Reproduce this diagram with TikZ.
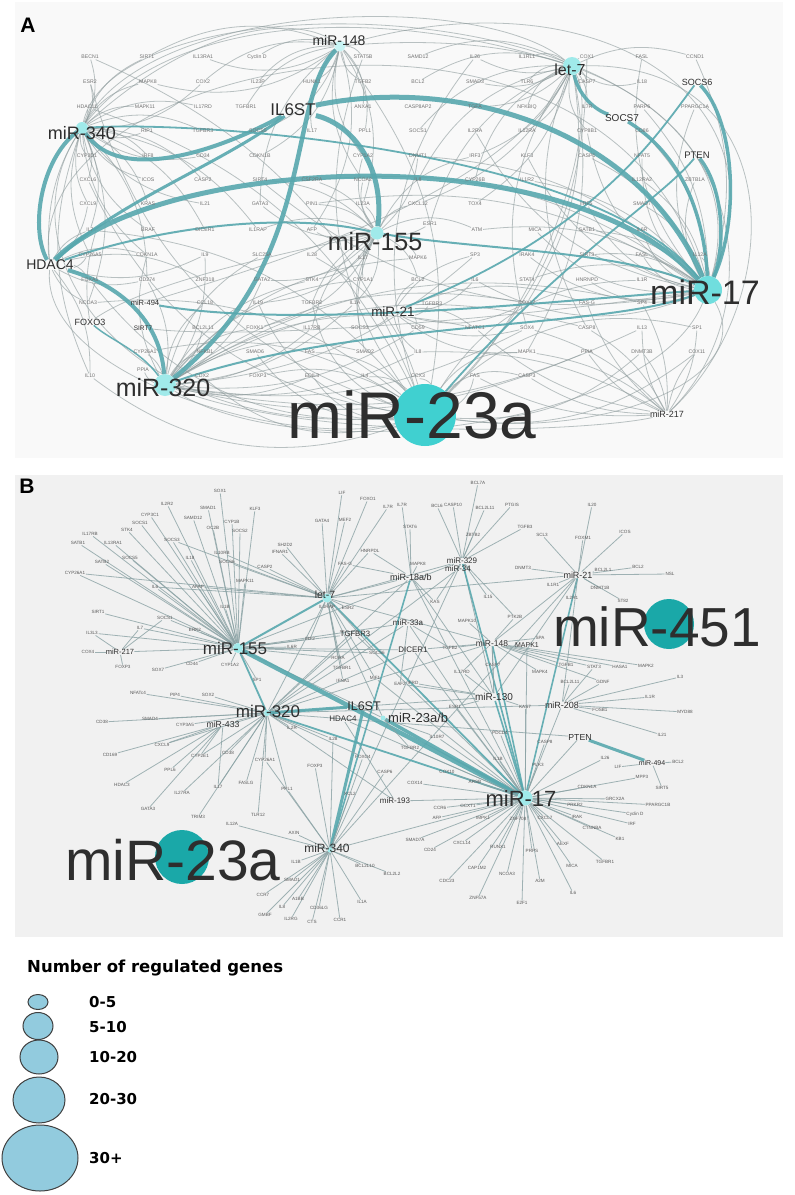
\documentclass[tikz,border=0pt]{standalone}
\usepackage{fontspec}
\setmainfont{Liberation Sans}
\newfontfamily\legfont{DejaVu Sans}
\usetikzlibrary{positioning,shapes.geometric}
\definecolor{tealE}{RGB}{88,168,174}
\definecolor{grayE}{RGB}{145,158,159}
\definecolor{edgeB}{RGB}{138,162,164}
\definecolor{cyanA}{RGB}{64,208,208}
\definecolor{cyanM}{RGB}{112,222,222}
\definecolor{cyanL}{RGB}{160,234,234}
\definecolor{cyanP}{RGB}{200,244,244}
\definecolor{tealB}{RGB}{26,168,168}
\definecolor{legblue}{RGB}{146,203,222}
\definecolor{bgA}{RGB}{249,249,249}
\definecolor{bgB}{RGB}{241,241,241}
\pgfdeclarelayer{back}
\pgfdeclarelayer{edges}
\pgfsetlayers{back,edges,main}

\tikzset{
  gene/.style={font=\fontsize{5.2}{5.2}\selectfont, text=black!55, inner sep=0.6pt},
  bgene/.style={font=\fontsize{4.6}{4.6}\selectfont, text=black!65, inner sep=0.6pt},
  hublab/.style={font=\fontsize{#1}{#1}\selectfont, text=black!82, inner sep=0pt},
  hubdot/.style={circle, fill=cyanL, draw=none, inner sep=0pt, minimum size=#1},
  gedge/.style={draw=grayE, line width=0.8pt, opacity=0.62},
  bedge/.style={draw=edgeB, line width=0.8pt, opacity=0.8},
  tedge/.style={draw=tealE, line width=#1, opacity=0.9},
  legdot/.style={ellipse, draw=black!75, fill=legblue, line width=1pt, inner sep=0pt},
  legtxt/.style={font={\legfont\bfseries\fontsize{15}{15}\selectfont}, inner sep=0pt},
  panel/.style={font=\fontsize{21}{21}\selectfont\bfseries, inner sep=0pt}
}

\begin{document}
\begin{tikzpicture}[x=1pt, y=-1pt]
\useasboundingbox (0,0) rectangle (795,1195);
\begin{pgfonlayer}{back}
\fill[white] (0,0) rectangle (795,1195);
\fill[bgA] (15,2) rectangle (783,458);
\fill[bgB] (15,475) rectangle (783,937);
\end{pgfonlayer}

%%%%%%%%%%%%%%%% Panel A %%%%%%%%%%%%%%%%
\node[panel] (pA) at (28,25) {A};

% hubs
\node[hubdot=11pt, fill=cyanP] (m148) at (340,46) {};
\node[hublab=14] (m148t) at (339,40) {miR-148};
\node[hubdot=18pt] (let7) at (572,66) {};
\node[hublab=16] (let7t) at (570,70) {let-7};
\node[hubdot=12pt] (m340) at (82,128) {};
\node[hublab=18] (m340t) at (82,133) {miR-340};
\node[hubdot=13pt] (m155) at (377,233) {};
\node[hublab=25] (m155t) at (375,242) {miR-155};
\node[hubdot=28pt, fill=cyanM] (m17) at (708,290) {};
\node[hublab=34] (m17t) at (705,292) {miR-17};
\node[hubdot=22pt] (m320) at (165,385) {};
\node[hublab=25] (m320t) at (163,388) {miR-320};
\node[hubdot=62pt, fill=cyanA] (m23a) at (425,415) {};
\node[hublab=66] (m23at) at (412,415) {miR-23a};
\node[hublab=17] (il6st) at (293,110) {IL6ST};
\node[hublab=9] (socs6) at (697,82) {SOCS6};
\node[hublab=9.5] (pten) at (697,155) {PTEN};
\node[hublab=10] (socs7) at (622,118) {SOCS7};
\node[hublab=14] (hdac4) at (50,265) {HDAC4};
\node[hublab=9] (foxo3) at (90,322) {FOXO3};
\node[hublab=7.5] (m494) at (145,303) {miR-494};
\node[hublab=6.5] (sirt7) at (143,328) {SIRT7};
\node[hublab=13.5] (m21) at (393,312) {miR-21};
\node[hublab=9] (m217) at (667,414) {miR-217};

% gene grid
\foreach \n/\x/\y/\t in {
  BECN1/90/57/BECN1, SIRTa/147/57/SIRT1, IL13RA1/203/57/IL13RA1, CyclinD/257/57/Cyclin D,
  STAT5B/363/57/STAT5B, SAMD12/418/57/SAMD12, IL26/475/57/IL26, IL1RL1/527/57/IL1RL1,
  COX1/587/57/COX1, FASL/642/57/FASL, CCND1/695/57/CCND1,
  ESR2/90/82/ESR2, MAPK8/148/82/MAPK8, COX2/203/82/COX2, IL23P/258/82/IL23P,
  HUNK1/312/82/HUNK1, TGFB2/363/82/TGFB2, BCL2/418/82/BCL2, SMAD3/475/82/SMAD3,
  TLR6/527/82/TLR6, CASP7/587/82/CASP7, IL18/642/82/IL18,
  HDAC11/87/107/HDAC11, MAPK11/145/107/MAPK11, IL17RD/203/107/IL17RD, TGFBR1/246/107/TGFBR1,
  ANXA1/363/107/ANXA1, CASP8AP/418/107/CASP8AP2, TGFA/475/107/TGFA, NFKBIQ/527/107/NFKBIQ,
  IL7R/587/107/IL7R, PARP6/642/107/PARP6, PPARGC1A/695/107/PPARGC1A,
  RIP1/147/131/RIP1, TGFBR3/203/131/TGFBR3, SOCS5/258/131/SOCS5, IL17/312/131/IL17,
  PPL1/365/131/PPL1, SOCS1/418/131/SOCS1, IL2RA/475/131/IL2RA, IL12RA/527/131/IL12RA,
  CYP8B1/587/131/CYP8B1, CD86/642/131/CD86,
  CYP3D1/87/156/CYP3D1, IRF8/148/156/IRF8, CD34/203/156/CD34, CDKN1B/260/156/CDKN1B,
  CYP1A2/363/156/CYP1A2, DNMT1/418/156/DNMT1, IRF3/475/156/IRF3, KLF3/527/156/KLF3,
  CASP1/587/156/CASP1, NFAT5/642/156/NFAT5,
  CXCL6/88/180/CXCL6, ICOS/148/180/ICOS, CASP2/203/180/CASP2, SIRT4/260/180/SIRT4,
  CSF2RA/312/180/CSF2RA, NCOA2/363/180/NCOA2, ILb8/418/180/IL8, CYP26B/475/180/CYP26B,
  IL1R2/527/180/IL1R2, IL12RA2/642/180/IL12RA2, ZBTB1A/695/180/ZBTB1A,
  CXCL9/88/204/CXCL9, KRAS/148/204/KRAS, IL21/205/204/IL21, GATA3/260/204/GATA3,
  PIN1/312/204/PIN1, IL23A/363/204/IL23A, CXCL12/418/204/CXCL12, TOX4/475/204/TOX4,
  IRF5/587/204/IRF5, SMAD7/642/204/SMAD7,
  IL7/90/230/IL7, BRAF/148/230/BRAF, DICER1/205/230/DICER1, IL1RAP/258/230/IL1RAP,
  AFP/312/230/AFP, ESR1/430/224/ESR1, ATM/477/230/ATM, MICA/535/230/MICA,
  SATB1/587/230/SATB1, IL6R/642/230/IL6R,
  CYP26A/90/255/CYP26A5, CDKN1A/147/255/CDKN1A, IL9/205/255/IL9, SLC25A/262/255/SLC25A,
  IL28/312/255/IL28, IL17b/363/258/IL17, MAPK6/418/258/MAPK6, SP3/475/255/SP3,
  IRAK4/527/255/IRAK4, SIRT3/587/255/SIRT3, FASLb/642/255/FASL, IL12A/700/255/IL12A,
  FOXA1/90/280/FOXA1, CD274/147/280/CD274, ZNF318/205/280/ZNF318, GATA2/262/280/GATA2,
  STK4/312/280/STK4, CYP1A1/363/280/CYP1A1, BCL2b/418/280/BCL2, IL6/475/280/IL6,
  STAT4/527/280/STAT4, HNRNPD/587/280/HNRNPD, IL1R/642/280/IL1R,
  NCOA3/88/303/NCOA3, CCL18/205/303/CCL18, IL19/258/303/IL19, TGFBR2/312/303/TGFBR2,
  IL1A/355/303/IL1A, TGFBR3b/432/304/TGFBR3, COX17/527/303/COX17, FASG/587/303/FAS-G,
  SP4/642/303/SP4,
  BCL2L11/203/328/BCL2L11, FOXK1/255/328/FOXK1, IL17RB/312/328/IL17RB, SOCS3/360/328/SOCS3,
  CD59/418/328/CD59, NFATC1/475/328/NFATC1, SOX4/527/328/SOX4, CASP8/587/328/CASP8,
  IL13/642/328/IL13, SP1/697/328/SP1,
  CYP26A1/145/352/CYP26A1, NFKB1/205/352/NFKB1, SMAD6/255/352/SMAD6, FAS/310/352/FAS,
  SMAD2/365/352/SMAD2, IL8c/418/352/IL8, MAPK1/527/352/MAPK1, PPIA/587/352/PPIA,
  DNMT3B/642/352/DNMT3B, COX11/697/352/COX11,
  IL10/90/376/IL10, PPIAb/143/370/PPIA, CDX2/202/376/CDX2, FOXP3/258/376/FOXP3,
  EDIL3/312/376/EDIL3, IL4/365/376/IL4, CCX3/418/376/CCX3, FASb/475/376/FAS,
  CASP3/527/376/CASP3}
  \node[gene] (a\n) at (\x,\y) {\t};

\begin{pgfonlayer}{edges}
% thin grey arcs, hub by hub
\foreach \g [count=\i] in {BECN1, ESR2, HDAC11, CXCL6, IL7, FOXA1, NCOA3, IL10, CYP26A1, CDX2,
  FOXP3, EDIL3, IL4, SMAD6, FAS, TGFBR2, IL28, STAT5B, TGFB2, IL26, COX1, SP1, COX11, CASP3,
  FASb, MAPK1, DNMT3B, IL1R, CCX3, IL19}
  {\pgfmathtruncatemacro\bb{mod(\i,2)==0 ? 28 : -22}
   \draw[gedge] (m23a) to[bend left=\bb] (a\g);}
\foreach \g [count=\i] in {IL8c, SMAD2, CD59, NFATC1, SOX4, CASP8, IL13, COX17, IL1A, MAPK6,
  SP3, CYP1A1, GATA2, SLC25A, IL9, CDKN1A, CD274, PPIAb, CYP26A1, NFKB1, BCL2L11, CCL18,
  EDIL3, FOXK1, IL17RB, STK4, PPIA, SP4}
  {\pgfmathtruncatemacro\bb{mod(\i,2)==0 ? 22 : -18}
   \draw[gedge] (m320) to[bend left=\bb] (a\g);}
\foreach \g [count=\i] in {CD86, CYP8B1, CASP1, NFAT5, IL1R2, IRF5, SMAD7, MICA, ATM, IRAK4,
  SIRT3, FASLb, IL12A, HNRNPD, STAT4, IL6, CSF2RA, SIRT4, PIN1, KLF3, DNMT1, IL2RA, PARP6,
  PPARGC1A, CCND1, FASL, SATB1, IL6R, IL12RA2, ZBTB1A}
  {\pgfmathtruncatemacro\bb{mod(\i,2)==0 ? 25 : -20}
   \draw[gedge] (m17) to[bend left=\bb] (a\g);}
\foreach \g [count=\i] in {SAMD12, IL26, IL1RL1, COX1, BCL2, SMAD3, TLR6, CASP7, IL18, TGFA,
  NFKBIQ, IL7R, SOCS1, IL12RA, CYP8B1, IRF3, CYP26B, TOX4, ILb8, CXCL12, ESR1, COX17, SOX4,
  MAPK1, CASP8, CCND1}
  {\pgfmathtruncatemacro\bb{mod(\i,2)==0 ? 20 : -25}
   \draw[gedge] (let7) to[bend left=\bb] (a\g);}
\foreach \g [count=\i] in {SIRTa, IL13RA1, CyclinD, STAT5B, TGFB2, HUNK1, IL23P, ANXA1, TGFBR1,
  PPL1, IL17, SOCS5, CYP1A2, CDKN1B, NCOA2, IL23A, GATA3, AFP, COX2, MAPK8}
  {\pgfmathtruncatemacro\bb{mod(\i,2)==0 ? 25 : -25}
   \draw[gedge] (m148) to[bend left=\bb] (a\g);}
\foreach \g [count=\i] in {BECN1, SIRTa, ESR2, MAPK8, HDAC11, MAPK11, RIP1, TGFBR3, CYP3D1,
  IRF8, CD34, CXCL6, ICOS, CASP2, CXCL9, KRAS, IL21, IL7, BRAF, DICER1, CDKN1A, CD274,
  CYP26A, NCOA3, IL10, IL17RD, COX2, IL1RAP}
  {\pgfmathtruncatemacro\bb{mod(\i,2)==0 ? 22 : -22}
   \draw[gedge] (m340) to[bend left=\bb] (a\g);}
\foreach \g [count=\i] in {IL28, STK4, IL1RAP, AFP, ESR1, ATM, IL17b, MAPK6, CYP1A1, BCL2b,
  SMAD2, IL1A, TGFBR2, IL19, SOCS3, FOXK1, IL17RB, GATA2, DNMT1, CYP1A2, CSF2RA, NCOA2,
  IL23A, CXCL12, PIN1, IRF3, SIRT4, GATA3}
  {\pgfmathtruncatemacro\bb{mod(\i,2)==0 ? 25 : -20}
   \draw[gedge] (m155) to[bend left=\bb] (a\g);}
\foreach \g [count=\i] in {TGFBR3b, CD59, MAPK1, SOCS3, IL8c, NFATC1, COX17, FASG, SOX4,
  BCL2b, IL6, SP3}
  {\pgfmathtruncatemacro\bb{mod(\i,2)==0 ? 20 : -20}
   \draw[gedge] (m21) to[bend left=\bb] (a\g);}
\foreach \g [count=\i] in {SP1, COX11, DNMT3B, IL13, CASP8, PPIA, MAPK1, CASP3, SOX4, FASG,
  SP4, NFATC1, IL8c, FASb}
  {\pgfmathtruncatemacro\bb{mod(\i,2)==0 ? 15 : -15}
   \draw[gedge] (m217) to[bend left=\bb] (a\g);}
\foreach \g [count=\i] in {CYP26A, FOXA1, NCOA3, IL10, CD274, CDKN1A, IL9, ZNF318, CXCL9, IL7}
  {\pgfmathtruncatemacro\bb{mod(\i,2)==0 ? 20 : -20}
   \draw[gedge] (hdac4) to[bend left=\bb] (a\g);}

% long grey arcs round the outside
\draw[gedge] (m340) .. controls (120,-40) and (790,-10) .. (m17);
\draw[gedge] (m340) .. controls (150,0) and (480,-10) .. (let7);
\draw[gedge] (hdac4) .. controls (20,60) and (600,-60) .. (m17);
\draw[gedge] (m148) .. controls (600,-30) and (790,100) .. (m17);
\draw[gedge] (hdac4) .. controls (30,40) and (300,-20) .. (let7);
\draw[gedge] (m340) .. controls (200,20) and (300,15) .. (m148);
\draw[gedge] (m320) .. controls (300,470) and (650,430) .. (m17);
\draw[gedge] (m320) .. controls (320,445) and (600,430) .. (m217);
\draw[gedge] (hdac4) .. controls (40,380) and (300,450) .. (m23a);
\draw[gedge] (m340) .. controls (0,250) and (120,440) .. (m23a);
\draw[gedge] (let7) .. controls (790,60) and (790,300) .. (m217);
\draw[gedge] (m148) .. controls (760,10) and (785,300) .. (m217);
\draw[gedge] (m23a) .. controls (600,440) and (760,380) .. (m17);
\draw[gedge] (m23a) .. controls (550,300) and (600,120) .. (let7);
\draw[gedge] (foxo3) .. controls (80,260) and (100,230) .. (aIL7);
\draw[gedge] (foxo3) .. controls (150,280) and (300,250) .. (m155);
\draw[gedge] (sirt7) .. controls (250,340) and (500,320) .. (m17);
\draw[gedge] (m494) .. controls (250,270) and (500,200) .. (let7);

% teal arcs
\draw[tedge=2pt] (m155) .. controls (480,250) and (620,250) .. (m17);
\draw[tedge=2pt] (m494) .. controls (300,330) and (560,300) .. (m17);
\draw[tedge=1.8pt] (m340) .. controls (200,120) and (600,150) .. (m17);
\draw[tedge=2pt] (hdac4) .. controls (150,230) and (280,210) .. (m155);
\draw[tedge=2pt] (m320) .. controls (350,320) and (600,330) .. (m17);
\draw[tedge=1.8pt] (socs6) .. controls (660,130) and (600,230) .. (m21);
\draw[tedge=1.8pt] (pten) .. controls (660,200) and (560,260) .. (m23a);
\draw[tedge=1.5pt] (foxo3) .. controls (110,340) and (140,350) .. (m320);
\draw[tedge=3pt] (hdac4) .. controls (120,200) and (220,165) .. (il6st);
\draw[tedge=4pt] (m340) .. controls (120,185) and (220,150) .. (il6st);
\draw[tedge=4.5pt] (m148) .. controls (285,100) and (320,260) .. (m320);
\draw[tedge=5pt] (il6st) .. controls (355,125) and (385,170) .. (m155);
\draw[tedge=5pt] (il6st) .. controls (460,75) and (640,130) .. (m17);
\draw[tedge=5pt] (hdac4) .. controls (150,160) and (560,130) .. (m17);
\draw[tedge=4pt] (m340) .. controls (40,160) and (30,230) .. (hdac4);
\draw[tedge=4pt] (hdac4) .. controls (120,285) and (160,320) .. (m320);
\draw[tedge=3.5pt] (let7) .. controls (580,100) and (600,112) .. (socs7);
\draw[tedge=3.5pt] (socs7) .. controls (690,160) and (705,230) .. (m17);
\draw[tedge=3.5pt] (socs6) .. controls (735,120) and (740,220) .. (m17);
\draw[tedge=3.5pt] (pten) .. controls (725,190) and (725,250) .. (m17);
\end{pgfonlayer}

%%%%%%%%%%%%%%%% Panel B %%%%%%%%%%%%%%%%
\node[panel] (pB) at (27,486) {B};

% hubs
\node[hubdot=10pt] (b155) at (238,648) {};
\node[hublab=17] (b155t) at (235,648) {miR-155};
\node[hubdot=9pt] (blet7) at (327,598) {};
\node[hublab=10.5] (blet7t) at (325,595) {let-7};
\node[hubdot=6pt] (b320) at (267,713) {};
\node[hublab=17] (b320t) at (268,711) {miR-320};
\node[hublab=12.5] (bil6st) at (364,706) {IL6ST};
\node[hublab=8] (bhdac4) at (343,719) {HDAC4};
\node[hubdot=5pt] (b23ab) at (383,718) {};
\node[hublab=13, anchor=west] (b23abt) at (388,718) {miR-23a/b};
\node[hubdot=15pt] (b17) at (525,798) {};
\node[hublab=22] (b17t) at (521,799) {miR-17};
\node[hubdot=5pt] (b340) at (330,850) {};
\node[hublab=12] (b340t) at (327,848) {miR-340};
\node[hubdot=54pt, fill=tealB] (b23a) at (182,857) {};
\node[hublab=57] (b23at) at (173,860) {miR-23a};
\node[hubdot=50pt, fill=tealB] (b451) at (669,624) {};
\node[hublab=55] (b451t) at (657,627) {miR-451};
\node[hublab=9] (b21) at (578,575) {miR-21};
\node[hublab=8] (b329) at (462,561) {miR-329};
\node[hublab=8] (b34) at (458,569) {miR-34};
\node[hublab=9] (b18ab) at (411,577) {miR-18a/b};
\node[hublab=8] (b33a) at (408,623) {miR-33a};
\node[hublab=8] (bdicer) at (413,650) {DICER1};
\node[hublab=7.7] (btgfbr3) at (355,634) {TGFBR3};
\node[hublab=8.5] (b148) at (492,643) {miR-148};
\node[hublab=7] (bmapk1) at (527,645) {MAPK1};
\node[hublab=10] (b130) at (494,697) {miR-130};
\node[hublab=9] (b208) at (562,705) {miR-208};
\node[hublab=8.7] (bpten) at (580,737) {PTEN};
\node[hublab=7] (b494) at (652,763) {miR-494};
\node[hublab=8] (b193) at (395,801) {miR-193};
\node[hublab=8.7] (b433) at (223,724) {miR-433};
\node[hublab=7.5] (b217) at (120,652) {miR-217};

\begin{pgfonlayer}{edges}
% hub to hub
\foreach \a/\b in {b155/b33a, b155/btgfbr3, b155/bdicer, blet7/b320, blet7/b18ab, blet7/b329,
  blet7/b21, b18ab/b320, b18ab/b17, b329/b130, b21/b148, b21/b130, b21/b208, bdicer/b320,
  bdicer/b148, b33a/b320, b148/b320, b148/b130, b130/b320, b208/b17, b208/b320, bpten/b17,
  bpten/b320, b193/b17, b193/b320, b193/bhdac4, b433/b320, b217/b155, b340/b17, bhdac4/b17,
  b23ab/b155, b23ab/blet7, btgfbr3/b17, btgfbr3/b320, b21/b340, b329/b340, b33a/b17,
  bdicer/b17, b155/b329, blet7/b148, bmapk1/b17, b34/b320, b18ab/b130}
  \draw[bedge] (\a) -- (\b);
\draw[tedge=2pt] (b155) -- (blet7);
\draw[tedge=1.8pt] (blet7) -- (b17);
\draw[tedge=1.8pt] (b155) -- (b320);
\draw[tedge=1.8pt] (b320) -- (b17);
\draw[tedge=1.6pt] (b329) -- (b17);
\draw[tedge=1.6pt] (b148) -- (b17);
\draw[tedge=1.6pt] (b130) -- (b17);
\draw[tedge=1.6pt] (b21) -- (b17);
\draw[tedge=1.6pt] (b18ab) -- (b340);
\draw[tedge=3pt] (bpten) -- (b494);
\draw[tedge=3pt] (b320) -- (bil6st);
\draw[tedge=3pt] (bil6st) -- (b340);
\draw[tedge=3.5pt] (b23ab) -- (b17);
\draw[tedge=4.5pt] (b155) -- (b17);
\end{pgfonlayer}

% genes with their spokes
\foreach \n/\x/\y/\t/\h in {
  SOXa/220/491/SOX1/b155, ILRa/167/504/IL2R2/b155, SMADa/208/508/SMAD1/b155,
  KLFa/255/509/KLF3/b155, CYPa/150/515/CYP3C1/b155, SOCSa/140/523/SOCS1/b155,
  SAMD/193/518/SAMD12/b155, OCB/213/528/OC2B/b155, CYPb/232/522/CYP1B/b155,
  SOCSb/240/531/SOCS2/b155, STK/127/530/STK4/b155, ILRb/90/534/IL17RB/b155,
  SATa/78/543/SATB1/b155, ILRc/113/543/IL13RA1/b155, SOCSc/172/540/SOCS3/blet7,
  SHD/285/545/SH2D2/blet7, ILRd/222/553/IL10RB/blet7, IFN/280/552/IFNAR1/blet7,
  SOCSd/130/558/SOCS5/b155, SATb/102/562/SATB2/b155, ILa/190/558/IL18/b155,
  SOCSe/227/562/SOCS6/blet7, CASPa/265/567/CASP2/blet7, CYPc/75/573/CYP26A1/blet7,
  MAPKa/245/581/MAPK11/b155, ILb/155/587/IL6/blet7, AFAP/198/587/AFAP/blet7,
  ILc/225/607/IL1B/b155, SIRTa/98/612/SIRT1/b155, SOCSf/165/618/SOCS1/b155,
  ILd/92/633/IL3L3/b217, ILe/140/628/IL7/b217, ERK/195/630/ERK2/b155,
  COXa/88/652/COX4/b217, FOXa/123/667/FOXP3/b217, SOXb/158/670/SOX7/b155,
  CDa/192/664/CD44/b155, CYPd/230/665/CYP1A2/b155, SPa/257/680/SP1/b155,
  NFAT/138/693/NFATc4/b320, PIP/175/695/PIP4/b320, SOXc/208/695/SOX2/b320,
  ILRe/292/647/IL6R/b155, IRF/310/639/IRF2/blet7, ESRa/348/608/ESR2/blet7,
  ILRf/327/607/IL1RAP/blet7, RORA/338/658/RORA/blet7, SOCSg/377/653/SOCS6/b155,
  TGFa/342/668/TGFBR1/blet7, IFNb/343/681/IFNA1/blet7, MIF/375/678/MIF1/b17,
  EAF/400/684/EAF2/b130, LIF/342/493/LIF/blet7, FOXb/368/499/FOXO1/blet7,
  ILRg/388/507/IL7R/blet7, GATA/322/521/GATA4/blet7, MEF/345/520/MEF2/blet7,
  FASa/345/564/FAS-G/blet7, HNR/370/551/HNRPDL/blet7,
  BCLa/478/483/BCL7A/b329, ILRh/402/505/IL7R/b18ab, BCLb/437/506/BCL6/b329,
  CASPb/453/505/CASP10/b329, BCLc/485/508/BCL2L11/b329, PTG/512/505/PTGIS/b329,
  ILf/592/505/IL20/b21, STAT/410/527/STAT6/b18ab, TGFb/525/527/TGFB3/b329,
  SCL/542/535/SCL3/b21, ICOS/625/532/ICOS/b21, FOXc/583/538/FOXM1/b21,
  ZBT/473/535/ZBTB2/b329, MAPKb/418/564/MAPK8/b18ab, DNMa/523/568/DNMT3/b21,
  BCLd/603/570/BCL2L1/b21, BCLe/638/567/BCL2/b21, NSL/670/574/NSL/b21,
  ILRi/553/585/IL1R1/b21, DNMb/600/588/DNMT1B/b21, KAS/435/602/KAS/b329,
  ILg/488/597/IL15/b329, ST/623/601/ST82/b21, ILRj/572/598/IL2R1/b21,
  PTK/515/617/PTK2B/b329, MAPKc/467/621/MAPK10/b148, SPb/540/638/SPA/b148,
  TGFc/450/648/TGFB2/b148, TGFd/566/665/TGFB1/b148, STATb/594/667/STAT3/b148,
  HAS/620/667/HASA1/b148, MAPKd/646/666/MAPK2/b148, CASPc/493/665/CASP7/b148,
  MAPKe/540/672/MAPK4/b148, ILRk/462/672/IL17RD/b148, BCLf/570/682/BCL2L11/b208,
  GDNF/603/682/GDNF/b208, ILh/680/677/IL3/b208, IFRD/413/683/IFRD/b130,
  ILRl/650/697/IL1R/b208, ESRb/455/707/ESR1/b130, KASb/525/707/KAS7/b130,
  FOSB/600/710/FOSB1/b208, MYD/685/712/MYD88/b208, ILi/662/735/IL21/b208,
  ILRm/437/737/IL10R7/b17, PDCD/500/733/PDCD4/b17, CASPd/545/742/CASP8/b17,
  TGFe/410/748/TGFBR2/b17, ILj/605/758/IL26/b17, ILk/498/759/IL1B/b17,
  PLK/538/765/PLK3/b17, LIFb/618/767/LIF/b494, BCLg/678/762/BCL2/b494,
  MPP/642/777/MPP3/b17, COXb/447/772/COX10/b17, ARS/475/782/ARSB/b17,
  SIRTb/662/788/SIRT5/b494, CDK/587/787/CDKN1A/b17, COXc/415/783/COX14/b17,
  CCR/440/808/CCR6/b17, OCX/468/806/OCXT1/b17, AFP/437/818/AFP/b17,
  IMP/483/818/IMPK1/b17, ZNFa/518/819/ZNF708/b17, CXCLa/545/818/CXCL7/b17,
  PRK/575/805/PRKR2/b17, GRC/615/799/GRCX2A/b17, PPAR/658/805/PPARGC1B/b17,
  CYC/635/814/Cyclin D/b17, IRAK/577/817/IRAK/b17, IRFb/632/824/IRF/b17,
  CTN/592/828/CTNNBA/b17, KB/620/839/KB1/b17, SMADb/415/840/SMAD7A/b17,
  CXCLb/462/843/CXCL14/b17, CDb/430/850/CD24/b17, RUNX/498/847/RUNX1/b17,
  PRP/532/851/PRPS/b17, AEX/563/844/AEXF/b17, TGFf/605/862/TGFBR1/b17,
  MICA/572/866/MICA/b17, CAP/477/868/CAP1M2/b17, NCOA/507/874/NCOA3/b17,
  AM/540/881/A2M/b17, CDC/447/881/CDC23/b17, ILl/573/893/IL6/b17,
  ZNFb/478/898/ZNF57A/b17, EF/522/903/E2F1/b17,
  CDc/102/722/CD38/b320, SMADc/150/719/SMAD4/b320, CYPe/185/725/CYP3A5/b320,
  ILRn/292/728/IL2R/b320, ILm/333/739/IL28/b320, CDd/110/755/CD169/b433,
  CXCLc/162/745/CXCL9/b320, CYPf/200/756/CYP2E1/b320, CDe/228/753/CD38/b320,
  CYPg/265/760/CYP26A1/b320, FOXd/315/766/FOXP3/b340, FOXe/363/757/FOXO4/b340,
  PPLa/170/770/PPL6/b433, HDAC/122/785/HDAC3/b433, ILRo/182/793/IL27RA/b320,
  ILn/218/787/IL17/b320, FASb/246/783/FASLG/b320, PPLb/287/789/PPL1/b320,
  CASPe/385/772/CASP6/b340, XCL/350/794/XCL2/b340, GATAb/148/809/GATA3/b433,
  TRIM/198/817/TRIM3/b320, TLR/258/815/TLR12/b320, ILo/232/824/IL12A/b340,
  AXIN/294/833/AXIN/b340, ILp/296/862/IL1B/b340, SMADd/292/880/SMAD1/b340,
  BCLh/365/866/BCL2L10/b340, BCLi/392/874/BCL2L2/b340, CCRb/263/895/CCR7/b340,
  ILq/282/907/IL8/b340, ABB/298/899/A1BB/b340, CDf/319/908/CD36LG/b340,
  ILr/362/902/IL1A/b340, GMB/265/915/GMBF/b340, ILRp/291/919/IL2RG/b340,
  CTS/312/922/CTS/b340, CCRc/340/920/CCR1/b340}
{
  \node[bgene] (q\n) at (\x,\y) {\t};
  \begin{pgfonlayer}{edges}\draw[bedge] (\h) -- (q\n);\end{pgfonlayer}
}

\begin{pgfonlayer}{edges}
% second spokes
\foreach \a/\b in {qCYPc/b155, qSOCSc/b155, qILb/b155, qAFAP/b155, qSOCSf/b217, qILe/b155,
  qILd/b155, qHNR/b18ab, qFASa/b18ab, qKAS/b18ab, qTGFc/b33a, qPTK/b148, qESRb/b17,
  qKASb/b17, qILRm/b23ab, qTGFe/b23ab, qFOXe/b320, qILm/b340, qSOCSg/blet7, qRORA/b155,
  qIRF/b155, qMIF/blet7, qEAF/b33a, qCASPc/b130, qILRk/b130, qGDNF/b148, qSTATb/b208,
  qCYPg/b340, qPPLb/b340, qILn/b433, qCXCLc/b433, qCYPf/b433}
  \draw[bedge] (\a) -- (\b);
\end{pgfonlayer}

%%%%%%%%%%%%%%%% Legend %%%%%%%%%%%%%%%%
\node[legtxt, anchor=west, font={\legfont\bfseries\fontsize{16.5}{16.5}\selectfont}] (legtitle) at (27,968) {Number of regulated genes};
\node[legdot, minimum width=20pt, minimum height=15pt] (leg1) at (38,1002) {};
\node[legdot, minimum width=30pt, minimum height=27pt] (leg2) at (38,1026) {};
\node[legdot, minimum width=38pt, minimum height=34pt] (leg3) at (39,1057) {};
\node[legdot, minimum width=52pt, minimum height=46pt] (leg4) at (39,1100) {};
\node[legdot, minimum width=76pt, minimum height=66pt] (leg5) at (40,1158) {};
\node[legtxt, anchor=west] (leg1t) at (89,1002) {0-5};
\node[legtxt, anchor=west] (leg2t) at (89,1027) {5-10};
\node[legtxt, anchor=west] (leg3t) at (89,1057) {10-20};
\node[legtxt, anchor=west] (leg4t) at (89,1099) {20-30};
\node[legtxt, anchor=west] (leg5t) at (89,1158) {30+};
\end{tikzpicture}
\end{document}
